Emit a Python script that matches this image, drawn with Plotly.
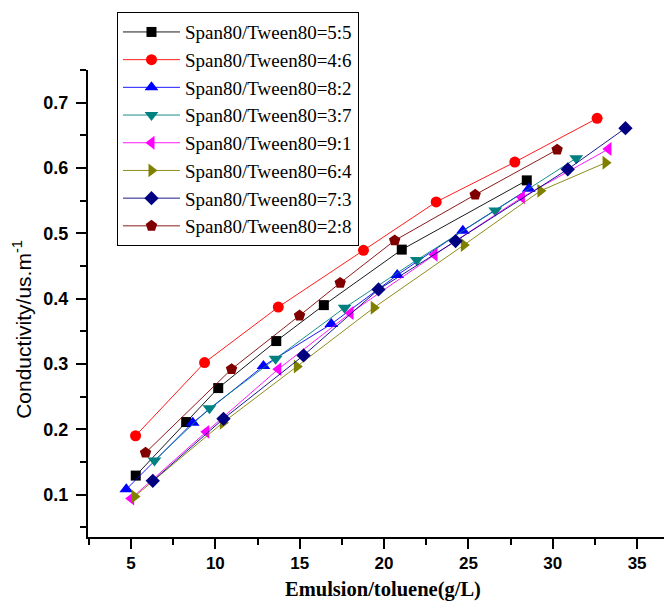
import plotly.graph_objects as go

# Data
names = ["Span80/Tween80=5:5", "Span80/Tween80=4:6", "Span80/Tween80=8:2",
         "Span80/Tween80=3:7", "Span80/Tween80=9:1", "Span80/Tween80=6:4",
         "Span80/Tween80=7:3", "Span80/Tween80=2:8"]

x_55 = [5.28, 8.27, 10.17, 13.61, 16.43, 21.05, 28.46]
y_55 = [0.129, 0.211, 0.263, 0.335, 0.390, 0.475, 0.581]

x_46 = [5.27, 9.36, 13.73, 18.78, 23.09, 27.75, 32.63]
y_46 = [0.190, 0.302, 0.387, 0.474, 0.548, 0.609, 0.676]

x_82 = [4.72, 8.66, 12.85, 16.87, 20.78, 24.67, 28.58]
y_82 = [0.108, 0.210, 0.297, 0.361, 0.436, 0.504, 0.568]

x_37 = [6.39, 9.65, 13.57, 17.66, 21.94, 26.59, 31.39]
y_37 = [0.152, 0.232, 0.308, 0.386, 0.459, 0.535, 0.615]

x_91 = [5.01, 9.46, 13.73, 18.01, 22.99, 28.17, 33.30]
y_91 = [0.094, 0.196, 0.292, 0.378, 0.467, 0.555, 0.629]

x_64 = [5.21, 10.44, 14.83, 19.39, 24.73, 29.27, 33.13]
y_64 = [0.097, 0.210, 0.296, 0.386, 0.482, 0.565, 0.608]

x_73 = [6.29, 10.48, 15.23, 19.67, 24.24, 30.89, 34.31]
y_73 = [0.121, 0.216, 0.313, 0.414, 0.488, 0.598, 0.661]

x_28 = [5.86, 10.96, 14.99, 17.40, 20.63, 25.40, 30.26]
y_28 = [0.164, 0.292, 0.374, 0.424, 0.489, 0.559, 0.628]

xs = [x_55, x_46, x_82, x_37, x_91, x_64, x_73, x_28]
ys = [y_55, y_46, y_82, y_37, y_91, y_64, y_73, y_28]

colors = ["#000000", "#FF0000", "#0000FF", "#008080",
          "#FF00FF", "#808000", "#000080", "#800000"]
symbols = ["square", "circle", "triangle-up", "triangle-down",
           "triangle-left", "triangle-right", "diamond", "pentagon"]
sizes = [10, 11, 12, 12, 12, 12, 11, 12]

y_tickvals = [0.1, 0.2, 0.3, 0.4, 0.5, 0.6, 0.7]
y_ticktext = ["0.1", "0.2", "0.3", "0.4", "0.5", "0.6", "0.7"]
x_tickvals = [5, 10, 15, 20, 25, 30, 35]

fig = go.Figure()
for n, x, y, c, s, sz in zip(names, xs, ys, colors, symbols, sizes):
    fig.add_trace(go.Scatter(
        x=x, y=y, name=n, mode="lines+markers",
        line=dict(color=c, width=0.9),
        marker=dict(symbol=s, size=sz, color=c, line=dict(width=0)),
    ))

x_font = dict(family="Liberation Sans", size=17, color="black", weight="bold")
y_font = dict(family="Liberation Sans", size=18, color="black", weight="bold")

# Plot area (page pixels): x 88..670, y 70..537.3 ; page has an 8px body offset
W, H = 664, 595
fig.update_layout(
    width=W, height=H,
    margin=dict(l=80, r=2, t=62, b=65.7),
    paper_bgcolor="white", plot_bgcolor="white",
    showlegend=True,
    legend=dict(
        x=0.0498, y=1.124, xanchor="left", yanchor="top",
        bordercolor="black", borderwidth=1, bgcolor="white",
        font=dict(family="Liberation Serif", size=19, color="black"),
        tracegroupgap=0, itemwidth=57,
    ),
    xaxis=dict(
        range=[2.45, 36.95], tickvals=x_tickvals,
        showgrid=False, zeroline=False,
        showline=True, linecolor="black", linewidth=2,
        ticks="outside", ticklen=10, tickwidth=1.5, tickcolor="black",
        minor=dict(dtick=5, tick0=2.5, ticks="outside", ticklen=6,
                   tickwidth=1.5, tickcolor="black", showgrid=False),
        tickfont=x_font, ticklabelstandoff=0,
    ),
    yaxis=dict(
        range=[0.035, 0.75], tickvals=y_tickvals, ticktext=y_ticktext,
        showgrid=False, zeroline=False,
        showline=True, linecolor="black", linewidth=2,
        ticks="outside", ticklen=10, tickwidth=1.5, tickcolor="black",
        minor=dict(dtick=0.1, tick0=0.05, ticks="outside", ticklen=6,
                   tickwidth=1.5, tickcolor="black", showgrid=False),
        tickfont=y_font, ticklabelstandoff=4,
    ),
    annotations=[
        dict(text="Conductivity/us.m<sup>-1</sup>", textangle=-90,
             xref="paper", yref="paper", x=-0.1134, y=0.4436,
             xanchor="center", yanchor="middle", showarrow=False,
             font=dict(family="Liberation Sans", size=21, color="black")),
        dict(text="<b>Emulsion/toluene(g/L)</b>",
             xref="paper", yref="paper", x=(383 - 88) / 582, y=(537.3 - 590) / 467.3,
             xanchor="center", yanchor="middle", showarrow=False,
             font=dict(family="Liberation Serif", size=20.5, color="black")),
    ],
)

fig.write_html("out.html")
